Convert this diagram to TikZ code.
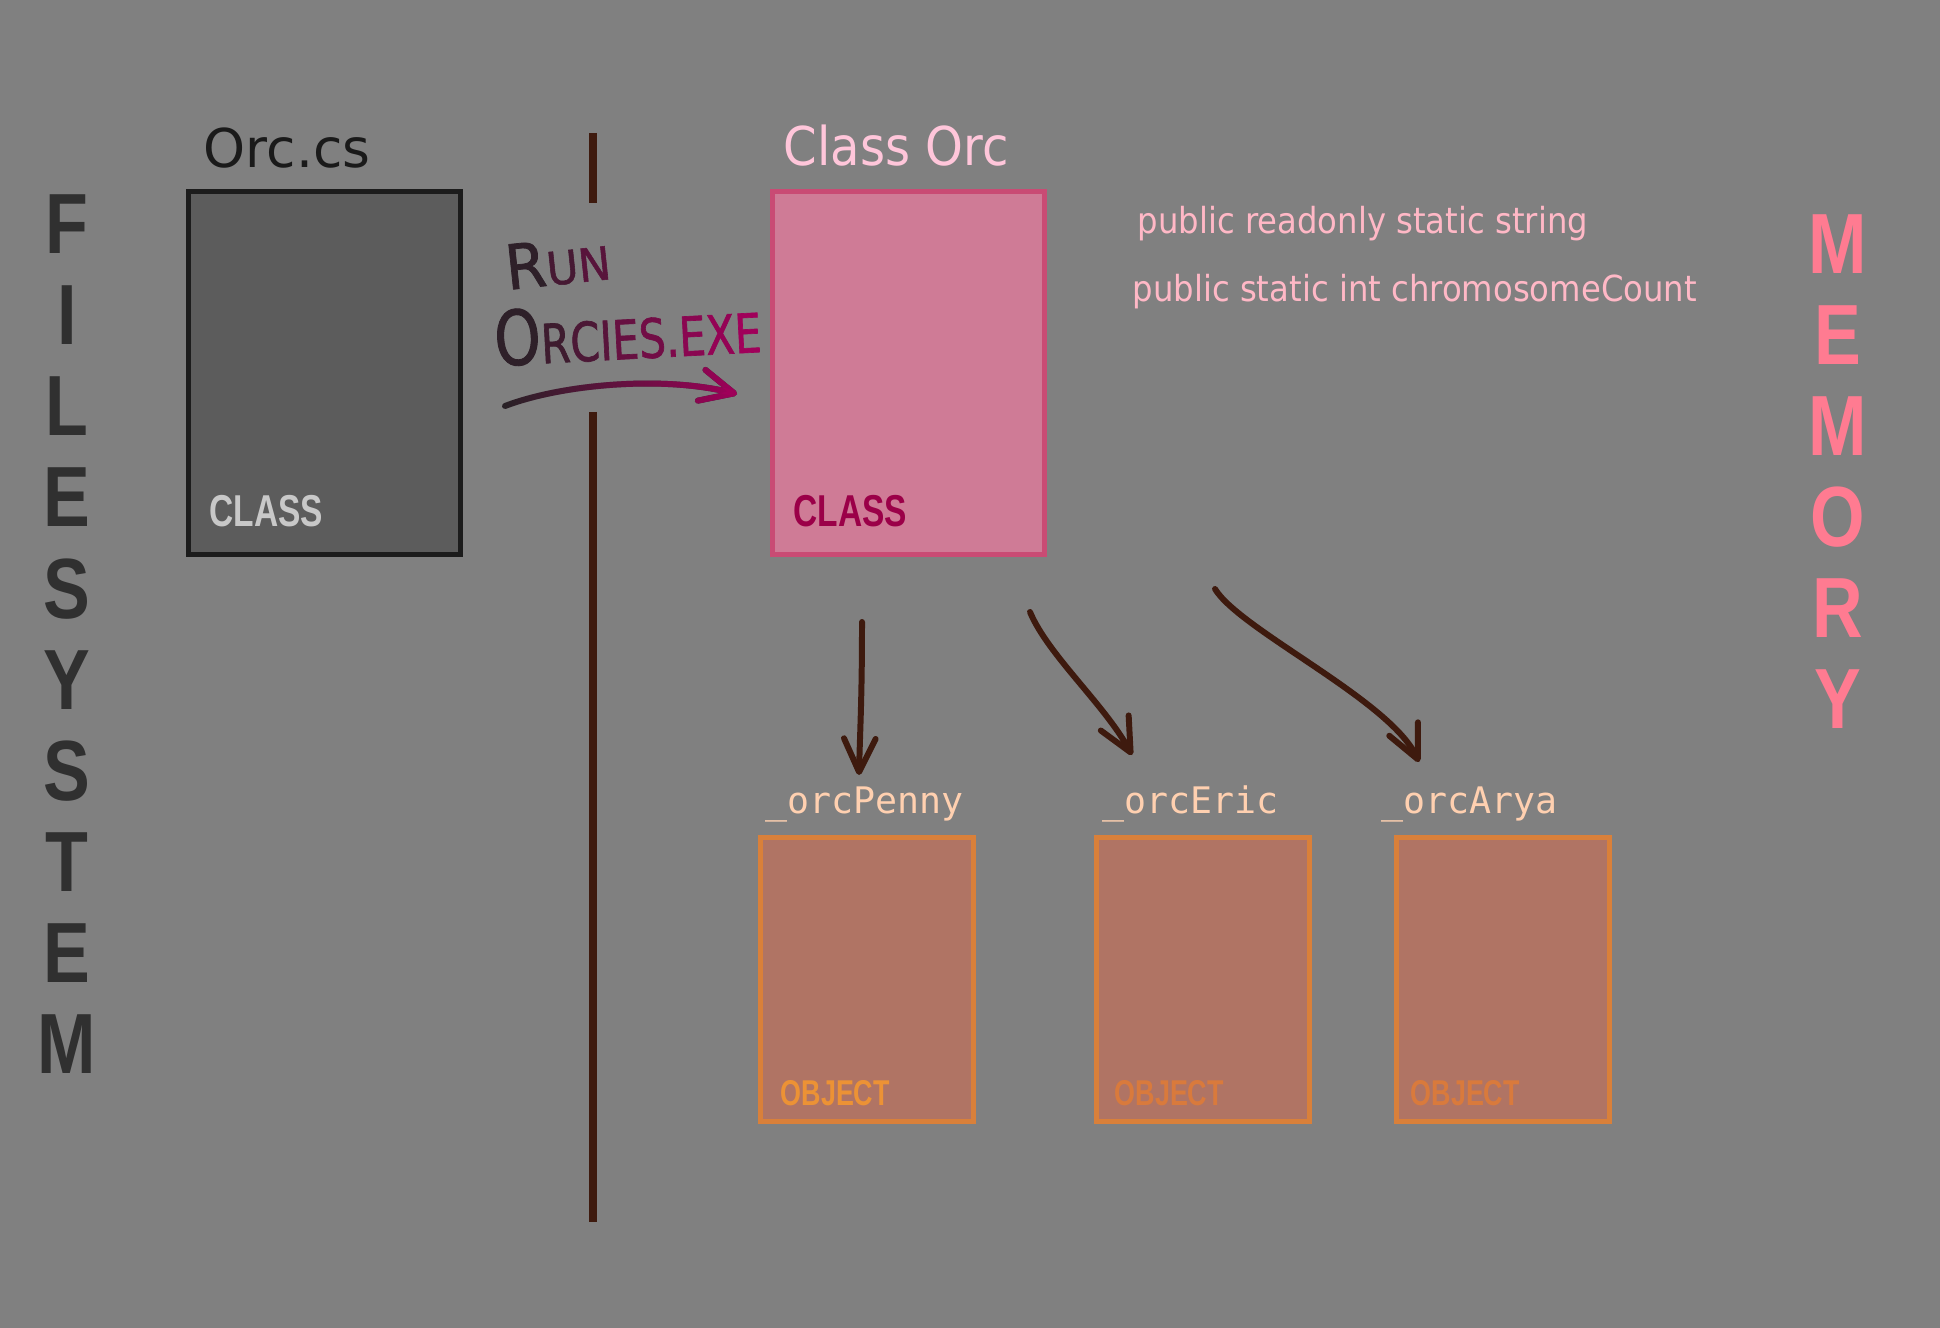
\documentclass[tikz,border=0pt]{standalone}
\usepackage{fontspec}
\usepackage{xcolor}
\usepackage{graphicx}
\setmainfont{DejaVu Sans}
\newfontfamily\filetitlefont{DejaVu Sans}
\newfontfamily\titlefont[FakeStretch=0.9]{DejaVu Sans}
\newfontfamily\codefont{DejaVu Sans Mono}
\newfontfamily\tagfont[FakeStretch=0.75]{Liberation Sans}
\newfontfamily\sidefont[FakeStretch=0.82]{Liberation Sans}
\newfontfamily\inkfont[FakeStretch=0.95,FakeBold=1.2]{DejaVu Sans}
\newfontfamily\inkfontc[FakeStretch=0.78,FakeBold=1.2]{DejaVu Sans}
\usetikzlibrary{arrows.meta,fadings}
\definecolor{bg}{RGB}{128,128,128}
\definecolor{filefill}{RGB}{92,92,92}
\definecolor{fileline}{RGB}{28,28,28}
\definecolor{filetxt}{RGB}{48,48,48}
\definecolor{filetag}{RGB}{200,200,200}
\definecolor{orctitle}{RGB}{26,26,26}
\definecolor{classfill}{RGB}{207,123,150}
\definecolor{classline}{RGB}{201,75,116}
\definecolor{classtag}{RGB}{155,0,72}
\definecolor{classtitle}{RGB}{255,198,218}
\definecolor{membertxt}{RGB}{255,184,198}
\definecolor{memtxt}{RGB}{255,123,145}
\definecolor{objfill}{RGB}{176,116,100}
\definecolor{objline}{RGB}{217,128,58}
\definecolor{objtag}{RGB}{236,146,53}
\definecolor{objtagb}{RGB}{217,122,60}
\definecolor{objname}{RGB}{255,208,176}
\definecolor{wire}{RGB}{62,26,14}
\definecolor{inkdark}{RGB}{40,34,38}
\definecolor{exe}{RGB}{160,0,90}

\begin{document}
\begin{tikzpicture}[x=0.01cm,y=-0.01cm,
  box/.style={draw,line width=1.56pt,minimum width=2.715cm,minimum height=3.625cm,inner sep=0pt},
  obj/.style={draw=objline,fill=objfill,line width=1.56pt,minimum width=2.125cm,minimum height=2.835cm,inner sep=0pt},
  title/.style={anchor=base west,inner sep=0pt,font=\titlefont\fontsize{15.2}{18}\selectfont},
  member/.style={anchor=base west,inner sep=0pt,text=membertxt,font=\titlefont\fontsize{10.2}{12}\selectfont},
  tag/.style={anchor=base west,inner sep=0pt,font=\tagfont\bfseries\fontsize{12.7}{14}\selectfont},
  otag/.style={tag,font=\tagfont\bfseries\fontsize{10.2}{12}\selectfont},
  oname/.style={anchor=base west,inner sep=0pt,text=objname,font=\codefont\fontsize{10.4}{12}\selectfont},
  side/.style={anchor=base,inner sep=0pt,font=\sidefont\bfseries\fontsize{24.3}{26}\selectfont},
  ink/.style={anchor=base west,inner sep=0pt},
  wall/.style={wire,line width=2pt},
  hand/.style={wire,line width=1.7pt,line cap=round,-{Straight Barb[length=9.5pt,width=9pt,round]}}]

\fill[bg] (0,0) rectangle (1940,1328);
\useasboundingbox (0,0) rectangle (1940,1328);

% ---------- file system side ----------
\foreach \ch [count=\i from 0] in {F,I,L,E,S,Y,S,T,E,M}
  \node[side,text=filetxt] (fs\i) at (67,254+91*\i) {\ch};
\node[title,text=orctitle,font=\filetitlefont\fontsize{15.2}{18}\selectfont] (tfile) at (203,168) {Orc.cs};
\node[box,draw=fileline,fill=filefill] (orcfile) at (324.5,373) {};
\node[tag,text=filetag] (tagfile) at (209,527) {CLASS};

% ---------- the wall ----------
\draw[wall] (593,133) -- (593,203);
\draw[wall] (593,412) -- (593,1222);

% ---------- run it ----------
\node[ink,rotate=6,font=\inkfont] (run) at (507,290)
  {\fontsize{17.6}{20}\selectfont{\color{exe!5!inkdark}R}\fontsize{13}{15}\selectfont{\color{exe!25!inkdark}U}{\color{exe!40!inkdark}N}};
\node[ink,rotate=3,font=\inkfontc] (exefile) at (495,366)
  {\fontsize{21.5}{24}\selectfont{\color{exe!5!inkdark}O}\fontsize{15.4}{18}\selectfont{\color{exe!18!inkdark}R}{\color{exe!30!inkdark}C}{\color{exe!40!inkdark}I}{\color{exe!52!inkdark}E}{\color{exe!62!inkdark}S}{\color{exe!72!inkdark}.}{\color{exe!82!inkdark}E}{\color{exe!90!inkdark}X}{\color{exe}E}};
\coordinate (runA) at (505,406);
\coordinate (runB) at (737,394);
\draw[hand,inkdark] (runA) .. controls (560,385) and (660,375) .. (runB);
\draw[hand,exe,path fading=west] (runA) .. controls (560,385) and (660,375) .. (runB);

% ---------- memory side ----------
\node[title,text=classtitle] (tclass) at (783,166) {Class Orc};
\node[box,draw=classline,fill=classfill] (corc) at (908.5,373) {};
\node[tag,text=classtag] (tagclass) at (793,527) {CLASS};
\node[member] (mname) at (1137,234) {public readonly static string};
\node[member] (mcount) at (1132,302) {public static int chromosomeCount};
\foreach \ch [count=\i from 0] in {M,E,M,O,R,Y}
  \node[side,text=memtxt] (mem\i) at (1838,274+90.8*\i) {\ch};

% ---------- objects ----------
\node[oname] (lpenny) at (765,813) {\_orcPenny};
\node[oname] (leric) at (1102,813) {\_orcEric};
\node[oname] (larya) at (1381,813) {\_orcArya};
\node[obj] (penny) at (867,979.5) {};
\node[obj] (eric) at (1203,979.5) {};
\node[obj] (arya) at (1503,979.5) {};
\node[otag,text=objtag] (tpenny) at (780,1105) {OBJECT};
\node[otag,text=objtagb] (teric) at (1114,1105) {OBJECT};
\node[otag,text=objtagb] (tarya) at (1410,1105) {OBJECT};

% ---------- new instances ----------
\coordinate (spA) at (862,622);
\coordinate (spB) at (859,775);
\coordinate (seA) at (1030,612);
\coordinate (seB) at (1132,755);
\coordinate (saA) at (1215,589);
\coordinate (saB) at (1419,762);
\draw[hand] (spA) .. controls (862,700) and (860,730) .. (spB);
\draw[hand] (seA) .. controls (1048,655) and (1105,705) .. (seB);
\draw[hand] (saA) .. controls (1240,630) and (1390,700) .. (saB);
\end{tikzpicture}
\end{document}
